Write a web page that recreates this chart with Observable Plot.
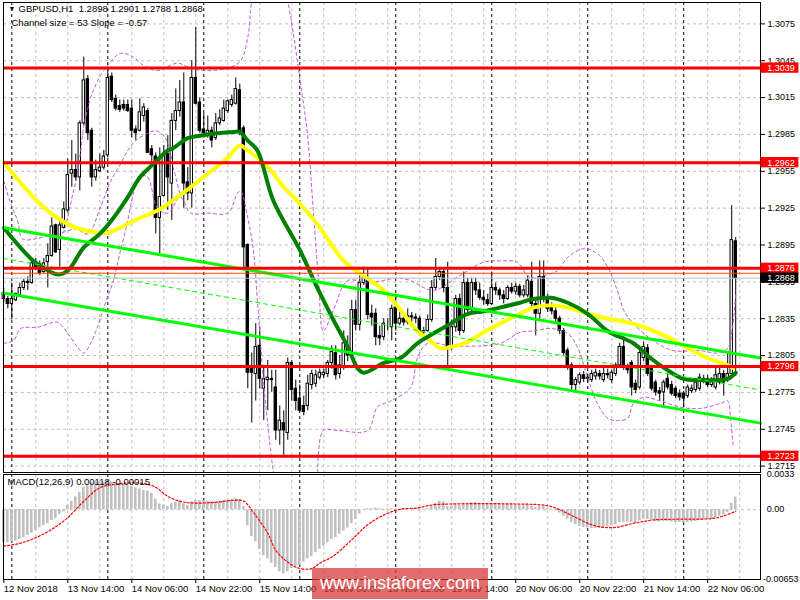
<!DOCTYPE html>
<html><head><meta charset="utf-8">
<script src="https://cdn.jsdelivr.net/npm/d3@7"></script>
<script src="https://cdn.jsdelivr.net/npm/@observablehq/plot@0.6"></script>
<style>
body{margin:0;background:#fff;}
#c{position:relative;width:800px;height:600px;overflow:hidden;font-family:"Liberation Sans",Arial,sans-serif;}
#c svg{position:absolute;left:0;}
#wm{position:absolute;left:312px;top:568px;width:176px;height:31px;background:rgba(214,52,52,0.72);color:#fff;font:18px "Liberation Sans",Arial,sans-serif;text-align:center;line-height:31px;}
</style></head><body><div id="c"></div>
<script>
// ---------- price data (GBPUSD H1, bar index 0 = 12 Nov 22:00) ----------
const open = [1.2851,1.2851,1.2847,1.2850,1.2854,1.2860,1.2865,1.2864,1.2881,1.2879,
1.2873,1.2881,1.2886,1.2911,1.2891,1.2909,1.2923,1.2953,1.2956,1.2950,
1.2994,1.3030,1.2988,1.2950,1.2955,1.2958,1.2968,1.3032,1.3014,1.3008,
1.3009,1.3009,1.3006,1.2989,1.2988,1.3000,1.3004,1.2973,1.2967,1.2917,
1.2935,1.2969,1.2945,1.2996,1.3004,1.3011,1.2946,1.2937,1.3031,1.3011,
1.2989,1.2984,1.2988,1.2982,1.2994,1.2996,1.3004,1.3009,1.3010,1.3021,
1.2990,1.2895,1.2794,1.2790,1.2813,1.2778,1.2785,1.2786,1.2779,1.2744,
1.2750,1.2742,1.2799,1.2778,1.2770,1.2764,1.2764,1.2781,1.2782,1.2787,
1.2789,1.2790,1.2799,1.2807,1.2790,1.2795,1.2813,1.2805,1.2842,1.2830,
1.2864,1.2868,1.2839,1.2839,1.2821,1.2820,1.2829,1.2828,1.2844,1.2831,
1.2835,1.2832,1.2837,1.2836,1.2835,1.2824,1.2825,1.2834,1.2860,1.2869,
1.2873,1.2860,1.2811,1.2828,1.2851,1.2825,1.2864,1.2842,1.2864,1.2858,
1.2852,1.2850,1.2847,1.2860,1.2858,1.2854,1.2851,1.2860,1.2857,1.2861,
1.2854,1.2854,1.2865,1.2847,1.2839,1.2869,1.2851,1.2844,1.2841,1.2835,
1.2825,1.2809,1.2797,1.2781,1.2783,1.2789,1.2786,1.2785,1.2788,1.2790,
1.2785,1.2790,1.2785,1.2790,1.2797,1.2812,1.2795,1.2799,1.2782,1.2779,
1.2803,1.2811,1.2795,1.2783,1.2776,1.2775,1.2786,1.2781,1.2778,1.2774,
1.2774,1.2772,1.2776,1.2777,1.2778,1.2785,1.2786,1.2781,1.2779,1.2783,
1.2790,1.2786,1.2790,1.2898];
const high = [1.2860,1.2853,1.2864,1.2856,1.2864,1.2867,1.2869,1.2882,1.2884,1.2882,
1.2884,1.2896,1.2917,1.2912,1.2915,1.2930,1.2965,1.2980,1.2969,1.2996,
1.3048,1.3033,1.2990,1.2964,1.2969,1.2972,1.3039,1.3035,1.3017,1.3013,
1.3013,1.3013,1.3013,1.2992,1.3014,1.3010,1.3006,1.2976,1.2970,1.2974,
1.2976,1.2984,1.3002,1.3022,1.3029,1.3035,1.2958,1.3045,1.3072,1.3015,
1.3002,1.3000,1.2991,1.3002,1.3005,1.3013,1.3013,1.3017,1.3031,1.3026,
1.2992,1.2896,1.2807,1.2831,1.2828,1.2797,1.2801,1.2793,1.2793,1.2764,
1.2760,1.2803,1.2801,1.2785,1.2781,1.2772,1.2789,1.2793,1.2793,1.2794,
1.2794,1.2801,1.2813,1.2813,1.2805,1.2825,1.2821,1.2850,1.2850,1.2870,
1.2877,1.2876,1.2846,1.2843,1.2829,1.2835,1.2835,1.2846,1.2852,1.2842,
1.2840,1.2843,1.2840,1.2839,1.2837,1.2828,1.2838,1.2866,1.2884,1.2876,
1.2876,1.2881,1.2834,1.2854,1.2855,1.2873,1.2868,1.2868,1.2868,1.2864,
1.2858,1.2855,1.2873,1.2864,1.2860,1.2858,1.2862,1.2864,1.2864,1.2863,
1.2862,1.2870,1.2881,1.2850,1.2882,1.2882,1.2855,1.2848,1.2844,1.2837,
1.2827,1.2811,1.2799,1.2787,1.2791,1.2792,1.2790,1.2793,1.2794,1.2793,
1.2795,1.2794,1.2793,1.2799,1.2815,1.2820,1.2798,1.2801,1.2785,1.2811,
1.2816,1.2814,1.2797,1.2785,1.2779,1.2785,1.2790,1.2784,1.2780,1.2777,
1.2776,1.2781,1.2781,1.2785,1.2790,1.2789,1.2789,1.2787,1.2795,1.2796,
1.2793,1.2807,1.2927,1.2901];
const low = [1.2848,1.2843,1.2834,1.2849,1.2853,1.2858,1.2858,1.2863,1.2874,1.2870,
1.2872,1.2860,1.2885,1.2888,1.2877,1.2908,1.2921,1.2942,1.2947,1.2939,
1.2992,1.2980,1.2942,1.2947,1.2954,1.2956,1.2966,1.3011,1.3004,1.3003,
1.3004,1.3003,1.2982,1.2980,1.2987,1.2995,1.2970,1.2958,1.2904,1.2888,
1.2934,1.2923,1.2915,1.2988,1.2999,1.2925,1.2931,1.2925,1.3009,1.2986,
1.2982,1.2982,1.2974,1.2980,1.2992,1.2995,1.3002,1.3007,1.3009,1.2984,
1.2874,1.2778,1.2750,1.2768,1.2778,1.2752,1.2760,1.2775,1.2736,1.2732,
1.2722,1.2736,1.2768,1.2760,1.2759,1.2756,1.2760,1.2777,1.2779,1.2785,
1.2786,1.2787,1.2794,1.2785,1.2786,1.2793,1.2800,1.2803,1.2825,1.2825,
1.2862,1.2834,1.2829,1.2813,1.2813,1.2817,1.2825,1.2817,1.2825,1.2829,
1.2829,1.2830,1.2832,1.2831,1.2821,1.2822,1.2824,1.2832,1.2858,1.2866,
1.2856,1.2793,1.2809,1.2824,1.2821,1.2823,1.2839,1.2840,1.2854,1.2850,
1.2846,1.2845,1.2846,1.2854,1.2850,1.2847,1.2850,1.2855,1.2854,1.2852,
1.2852,1.2852,1.2842,1.2821,1.2835,1.2848,1.2840,1.2838,1.2832,1.2822,
1.2805,1.2793,1.2777,1.2776,1.2781,1.2783,1.2783,1.2783,1.2785,1.2785,
1.2783,1.2786,1.2782,1.2788,1.2795,1.2793,1.2790,1.2772,1.2774,1.2777,
1.2800,1.2788,1.2776,1.2772,1.2768,1.2763,1.2777,1.2772,1.2770,1.2768,
1.2763,1.2770,1.2774,1.2775,1.2776,1.2782,1.2779,1.2779,1.2777,1.2781,
1.2772,1.2783,1.2788,1.2788];
const close = [1.2856,1.2847,1.2851,1.2855,1.2860,1.2865,1.2864,1.2880,1.2877,1.2872,
1.2880,1.2886,1.2910,1.2889,1.2911,1.2924,1.2952,1.2956,1.2950,1.2994,
1.3029,1.2986,1.2950,1.2956,1.2958,1.2967,1.3031,1.3013,1.3006,1.3005,
1.3006,1.3004,1.2988,1.2986,1.3003,1.3007,1.2970,1.2968,1.2917,1.2934,
1.2968,1.2950,1.2996,1.3004,1.3011,1.2945,1.2937,1.3031,1.3010,1.2988,
1.2986,1.2988,1.2980,1.2994,1.2998,1.3006,1.3012,1.3013,1.3022,1.2987,
1.2893,1.2791,1.2791,1.2812,1.2786,1.2786,1.2787,1.2785,1.2744,1.2752,
1.2744,1.2799,1.2777,1.2768,1.2760,1.2759,1.2782,1.2790,1.2789,1.2791,
1.2791,1.2799,1.2808,1.2789,1.2797,1.2815,1.2805,1.2842,1.2830,1.2864,
1.2868,1.2838,1.2836,1.2820,1.2819,1.2831,1.2829,1.2843,1.2831,1.2835,
1.2832,1.2837,1.2836,1.2835,1.2824,1.2825,1.2834,1.2860,1.2869,1.2873,
1.2860,1.2811,1.2828,1.2851,1.2825,1.2864,1.2842,1.2864,1.2858,1.2852,
1.2850,1.2847,1.2860,1.2858,1.2854,1.2851,1.2860,1.2857,1.2861,1.2854,
1.2858,1.2866,1.2847,1.2839,1.2869,1.2851,1.2843,1.2841,1.2835,1.2825,
1.2807,1.2795,1.2781,1.2785,1.2789,1.2786,1.2787,1.2790,1.2791,1.2788,
1.2790,1.2789,1.2791,1.2797,1.2812,1.2795,1.2793,1.2779,1.2777,1.2807,
1.2812,1.2790,1.2778,1.2775,1.2774,1.2783,1.2779,1.2774,1.2772,1.2771,
1.2770,1.2779,1.2778,1.2783,1.2787,1.2786,1.2781,1.2784,1.2789,1.2790,
1.2783,1.2790,1.2899,1.2868];

// ---------- indicator lines (bar index, price) ----------
const yellowIdx = [0,7.4,11.7,16,19,23.4,26,29,34,38.4,43.4,46.7,51,56,59,61,63.4,66.7,70,73.4,78.4,85,89,95,99.2,103.4,106.7,109,111.7,116,120,124,129,132.4,136.7,141,146,151,156,161,166,171,176,181,182.4];
const yellowVal = [1.2962,1.2934,1.2921,1.2912,1.2908,1.2905,1.2905,1.2909,1.2917,1.2923,1.2934,1.2942,1.2953,1.2966,1.2976,1.2972,1.2966,1.2956,1.2942,1.2931,1.2912,1.2882,1.2872,1.2858,1.2842,1.2825,1.2817,1.2811,1.2812,1.2816,1.2824,1.2831,1.2839,1.2844,1.2846,1.2844,1.2839,1.2835,1.2832,1.2827,1.2820,1.2811,1.2803,1.2797,1.2795];
const greenIdx = [0,7.4,11.7,13.7,16,20,24,27.4,31,34,37.4,41,42.4,46,49,53.4,57.4,59,61,63.4,67.4,74,78.4,82.4,86,88.4,90,95,99.2,103.4,107.4,111.7,116,120,124,129,132.4,136.7,141,146,151,157.4,161.7,166,170,174,178.4,181,183];
const greenVal = [1.2909,1.2882,1.2873,1.2871,1.2874,1.2893,1.2904,1.2917,1.2934,1.2950,1.2961,1.2972,1.2974,1.2982,1.2984,1.2986,1.2987,1.2987,1.2980,1.2972,1.2931,1.2891,1.2860,1.2834,1.2812,1.2795,1.2791,1.2799,1.2803,1.2815,1.2823,1.2831,1.2839,1.2841,1.2844,1.2848,1.2851,1.2852,1.2848,1.2839,1.2825,1.2815,1.2803,1.2793,1.2786,1.2785,1.2785,1.2786,1.2791];
// purple dashed bands
const bandUpAIdx = [0,1.7,3.4,4.7,7.9,11.7,14.7,16,17,18,19,20,21,21.7,24.2,26.7,29.2,32.4,35,38.4,43.4,46.7,50,56,59.2,61,61.7,62.2];
const bandUpAVal = [1.2947,1.2929,1.2915,1.2900,1.2900,1.2903,1.2905,1.2918,1.2933,1.2947,1.2966,1.2992,1.3006,1.3015,1.3033,1.3044,1.3051,1.3048,1.3041,1.3037,1.3043,1.3039,1.3037,1.3039,1.3045,1.3064,1.3086,1.3100];
const bandMidIdx = [14.7,18,21,24.2,26.7,29.2,31,33,36,38,40.4,42.4,44.2];
const bandMidVal = [1.2905,1.2908,1.2904,1.2926,1.2947,1.2961,1.2972,1.2980,1.2986,1.2988,1.2982,1.2958,1.2934];
const bandUpBIdx = [70.7,72.4,74.2,75.9,77.2,78.7,79.9,82.4,86,91,98.4,101.7,107.4,114,120,124.2,128.4,131,133.4,135,138.4,141,145,148.4,151,153.4,155,157.4,160,163.4,167.4,174.2,178.4,181,182.2,183];
const bandUpBVal = [1.3100,1.3067,1.3026,1.2986,1.2931,1.2866,1.2825,1.2842,1.2866,1.2864,1.2868,1.2866,1.2858,1.2870,1.2881,1.2882,1.2881,1.2870,1.2868,1.2870,1.2874,1.2885,1.2892,1.2888,1.2877,1.2858,1.2842,1.2831,1.2823,1.2815,1.2809,1.2809,1.2807,1.2811,1.2828,1.2855];
const bandLoAIdx = [0,2.4,4.2,8.4,13.4,16,18.4,20,21.7,23.4,25,27.4,29,31,32.4,34,36,38.4,41,44.2,46.7,51,56,58.4,59.2,61,62.4,63.4,64.7,65.9,67.2,68];
const bandLoAVal = [1.2815,1.2817,1.2827,1.2828,1.2832,1.2823,1.2812,1.2807,1.2815,1.2828,1.2844,1.2866,1.2888,1.2915,1.2937,1.2952,1.2950,1.2925,1.2921,1.2934,1.2921,1.2921,1.2921,1.2937,1.2939,1.2917,1.2891,1.2850,1.2793,1.2752,1.2715,1.2700];
const bandLoBIdx = [78.5,79.9,83.4,91,93.4,96.7,101.7,103.4,106,111.7,120,124.2,129.2,132.4,136.7,141,143.4,146,148.4,151,153.4,156,157.4,160,164.2,169.2,174.2,179.2,181,181.7,182.4];
const bandLoBVal = [1.2700,1.2744,1.2744,1.2744,1.2763,1.2768,1.2779,1.2803,1.2815,1.2813,1.2813,1.2815,1.2824,1.2825,1.2827,1.2823,1.2812,1.2787,1.2766,1.2754,1.2752,1.2754,1.2766,1.2771,1.2768,1.2763,1.2762,1.2766,1.2768,1.2754,1.2730];
// regression channel (start / end of chart)
const channelIdx = [-0.08, 189.2];
const channelUpper = [1.2909, 1.2803];
const channelMiddle = [1.2884, 1.2777];
const channelLower = [1.2856, 1.2750];
// horizontal levels
const levels = [1.3039, 1.2962, 1.2876, 1.2796, 1.2723];
const askPrice = 1.2872, bidPrice = 1.2868;
const priceTicks = [1.3075,1.3045,1.3015,1.2985,1.2955,1.2925,1.2895,1.2865,1.2835,1.2805,1.2775,1.2745,1.2715];

// ---------- MACD ----------
const macdMain = [-0.0031,-0.0031,-0.0030,-0.00295,-0.0028,-0.0026,-0.0024,-0.0022,-0.0019,-0.0017,
-0.0015,-0.0013,-0.0010,-0.0008,-0.00045,-0.0002,0.0004,0.0008,0.0012,0.0016,
0.0021,0.0024,0.0025,0.0026,0.0026,0.0026,0.0027,0.0026,0.0025,0.0024,
0.00235,0.0023,0.0022,0.00205,0.00195,0.0018,0.00175,0.00155,0.0010,0.00055,
0.00045,0.0003,0.00055,0.0007,0.0008,0.00055,0.0004,0.00075,0.00085,0.00085,
0.00085,0.0008,0.00075,0.00075,0.0008,0.00085,0.0009,0.00095,0.00105,0.00095,
0.0003,-0.0015,-0.0025,-0.0030,-0.0037,-0.0043,-0.0046,-0.0050,-0.0054,-0.0058,
-0.0060,-0.0058,-0.0055,-0.0053,-0.0052,-0.0049,-0.0046,-0.0044,-0.0040,-0.0037,
-0.0034,-0.0031,-0.0028,-0.0026,-0.0023,-0.0020,-0.0017,-0.0013,-0.0009,-0.0004,
-0.00005,0.0001,0.00008,0.00015,0.0001,0.00005,0.00008,0.0001,0.00005,0.00005,
0.0001,0.00005,0.0001,0.00015,0.0001,0.00005,0.0001,0.0003,0.0006,0.0008,
0.00075,0.0003,0.00035,0.00045,0.0004,0.0006,0.00055,0.00065,0.00065,0.0006,
0.00055,0.0005,0.0006,0.0006,0.00055,0.0005,0.0005,0.00045,0.00045,0.0004,
0.00035,0.0004,0.0003,0.0002,0.00035,0.0003,0.00015,0.00005,-0.0001,-0.0003,
-0.0006,-0.0009,-0.0012,-0.0014,-0.00155,-0.00165,-0.0017,-0.00175,-0.00175,-0.0017,
-0.00165,-0.0016,-0.0015,-0.0014,-0.0012,-0.0012,-0.00115,-0.0012,-0.00125,-0.00105,
-0.00085,-0.0009,-0.0010,-0.0011,-0.00115,-0.0011,-0.0011,-0.00115,-0.0012,-0.0012,
-0.00125,-0.0012,-0.00115,-0.0011,-0.0010,-0.00095,-0.0009,-0.00085,-0.00075,-0.0006,
-0.00045,-0.00025,0.0006,0.00118];
const signalIdx = [0,4,7.5,11.7,15.8,20,24,28,34,37.5,41,44,47.5,53,57.5,60,62.5,66,68,71,74,77,79,82.5,87,91,95,99,103,107.5,111.7,120,128,134,136.7,139,142.5,146,149,153,157.5,160,162.5,170,174,177.5,180,183];
const signalVal = [-0.0034,-0.00315,-0.0027,-0.0019,-0.0008,0.0008,0.00205,0.0024,0.0025,0.0022,0.00125,0.0008,0.00063,0.0007,0.00088,0.0008,-0.0003,-0.0022,-0.0038,-0.0049,-0.0055,-0.0055,-0.0050,-0.0043,-0.0028,-0.0014,-0.0005,0.00005,0.00015,0.00047,0.00054,0.00057,0.00054,0.00047,0.00032,0,-0.00063,-0.00126,-0.0016,-0.00165,-0.00126,-0.0011,-0.00095,-0.00088,-0.00088,-0.0008,-0.00057,-0.00015];

// ---------- time axis ----------
const timeIdx = [0,16,32,48,64,80,96,112,128,144,160,176];
const timeLabels = ["12 Nov 2018","13 Nov 14:00","14 Nov 06:00","14 Nov 22:00","15 Nov 14:00","16 Nov 06:00","16 Nov 22:00","19 Nov 14:00","20 Nov 06:00","20 Nov 22:00","21 Nov 14:00","22 Nov 06:00"];
const gridIdx = d3.range(8, 189, 8);
const daySeps = [2,26,50,74,98,122,146,170];

// ---------- build ----------
const fmt4 = d3.format(".4f");
const X = [-0.08, 189.2];
const pts = (ix, vs) => ix.map((x, k) => ({x, y: vs[k]}));
const bars = open.map((o, i) => ({i, o, h: high[i], l: low[i], c: close[i]}));
const font = "'Liberation Sans', Arial, sans-serif";
const purple = {x: "x", y: "y", stroke: "#ba55d3", strokeWidth: 1, strokeDasharray: "3,3", curve: "catmull-rom", clip: true};
const boxH = 0.00042;

const main = Plot.plot({
  width: 800, height: 473, marginLeft: 3, marginRight: 40, marginTop: 2, marginBottom: 1,
  x: {domain: X, axis: null},
  y: {domain: [1.27098, 1.30924], axis: null},
  style: {fontFamily: font, fontSize: "9px", color: "#000", background: "transparent", overflow: "visible"},
  marks: [
    Plot.gridY(priceTicks, {stroke: "#c0c0c0", strokeOpacity: 1, strokeDasharray: "3,3"}),
    Plot.ruleX(gridIdx, {stroke: "#c0c0c0", strokeDasharray: "3,3"}),
    Plot.ruleX(daySeps, {stroke: "#000", strokeDasharray: "3,3"}),
    Plot.ruleX(bars, {x: "i", y1: "l", y2: "h", stroke: "#000", strokeWidth: 1}),
    Plot.rect(bars, {x1: d => d.i - 0.3, x2: d => d.i + 0.3, y1: "o", y2: "c", fill: d => d.c >= d.o ? "#fff" : "#000", stroke: "#000", strokeWidth: 1}),
    Plot.line(pts(bandUpAIdx, bandUpAVal), purple),
    Plot.line(pts(bandMidIdx, bandMidVal), purple),
    Plot.line(pts(bandUpBIdx, bandUpBVal), purple),
    Plot.line(pts(bandLoAIdx, bandLoAVal), purple),
    Plot.line(pts(bandLoBIdx, bandLoBVal), purple),
    Plot.line(pts(yellowIdx, yellowVal), {x: "x", y: "y", stroke: "#ffff00", strokeWidth: 4, curve: "catmull-rom"}),
    Plot.line(pts(greenIdx, greenVal), {x: "x", y: "y", stroke: "#008000", strokeWidth: 4, curve: "catmull-rom"}),
    Plot.line(pts(channelIdx, channelUpper), {x: "x", y: "y", stroke: "#00ff00", strokeWidth: 3}),
    Plot.line(pts(channelIdx, channelLower), {x: "x", y: "y", stroke: "#00ff00", strokeWidth: 3}),
    Plot.line(pts(channelIdx, channelMiddle), {x: "x", y: "y", stroke: "#00ff00", strokeWidth: 1, strokeDasharray: "4,4"}),
    Plot.ruleY([bidPrice], {stroke: "#c0c0c0", strokeWidth: 1}),
    Plot.ruleY([askPrice], {stroke: "#ff4500", strokeWidth: 1}),
    Plot.ruleY(levels, {stroke: "#ff0000", strokeWidth: 3}),
    Plot.frame({stroke: "#000"}),
    Plot.axisY(priceTicks, {anchor: "right", label: null, tickFormat: fmt4, tickSize: 4, tickPadding: 3, fontSize: 9}),
    Plot.rect(levels, {x1: 189.3, x2: 198.8, y1: d => d - boxH, y2: d => d + boxH, fill: "#ff0000"}),
    Plot.text(levels, {x: 190.9, y: d => d, text: fmt4, fill: "#fff", textAnchor: "start", fontSize: 9}),
    Plot.rect([bidPrice], {x1: 189.3, x2: 198.8, y1: d => d - boxH, y2: d => d + boxH, fill: "#000"}),
    Plot.text([bidPrice], {x: 190.9, y: d => d, text: fmt4, fill: "#fff", textAnchor: "start", fontSize: 9}),
    Plot.text(["▼"], {frameAnchor: "top-left", dx: 5, dy: 4, lineAnchor: "top", textAnchor: "start", fontSize: 7}),
    Plot.text(["GBPUSD,H1  1.2898 1.2901 1.2788 1.2868"], {frameAnchor: "top-left", dx: 15, dy: 3, lineAnchor: "top", textAnchor: "start", fontSize: 9.5}),
    Plot.text(["Channel size = 53 Slope = -0.57"], {frameAnchor: "top-left", dx: 8, dy: 17, lineAnchor: "top", textAnchor: "start", fontSize: 9.5})
  ]
});
main.style.top = "0px";

const labelMap = new Map(timeIdx.map((d, k) => [d, timeLabels[k]]));
const macdRight = [
  {v: 0.0033, t: "0.0033", dy: 7, x: 190.9},
  {v: 0, t: "0.00", dy: 0, x: 190.9},
  {v: -0.00653, t: "-0.00653", dy: -7, x: 189.95}
];
const macd = Plot.plot({
  width: 800, height: 127, marginLeft: 3, marginRight: 40, marginTop: 1, marginBottom: 21,
  x: {domain: X, axis: null},
  y: {domain: [-0.00653, 0.0033], axis: null},
  style: {fontFamily: font, fontSize: "9.5px", color: "#000", background: "transparent", overflow: "visible"},
  marks: [
    Plot.ruleX(gridIdx, {stroke: "#c0c0c0", strokeDasharray: "3,3"}),
    Plot.ruleX(daySeps, {stroke: "#000", strokeDasharray: "3,3"}),
    Plot.ruleY([0], {stroke: "#c0c0c0", strokeDasharray: "3,3"}),
    Plot.rect(macdMain.map((v, i) => ({i, v})), {x1: d => d.i - 0.33, x2: d => d.i + 0.33, y1: 0, y2: "v", fill: "#c0c0c0"}),
    Plot.line(pts(signalIdx, signalVal), {x: "x", y: "y", stroke: "#ff0000", strokeWidth: 1.2, strokeDasharray: "2,2", curve: "catmull-rom"}),
    Plot.frame({stroke: "#000"}),
    Plot.text(macdRight, {x: "x", y: "v", text: "t", dy: "dy", textAnchor: "start", fontSize: 9}),
    Plot.axisX(timeIdx, {anchor: "bottom", label: null, tickFormat: d => labelMap.get(d), textAnchor: "start", tickSize: 4, tickPadding: 2, fontSize: 9.5}),
    Plot.text(["MACD(12,26,9) 0.00118 -0.00015"], {frameAnchor: "top-left", dx: 4, dy: 4, lineAnchor: "top", textAnchor: "start", fontSize: 9.5})
  ]
});
macd.style.top = "473px";

const c = document.getElementById("c");
c.appendChild(main);
c.appendChild(macd);
const wm = document.createElement("div");
wm.id = "wm";
wm.textContent = "www.instaforex.com";
c.appendChild(wm);
</script>
</body></html>
